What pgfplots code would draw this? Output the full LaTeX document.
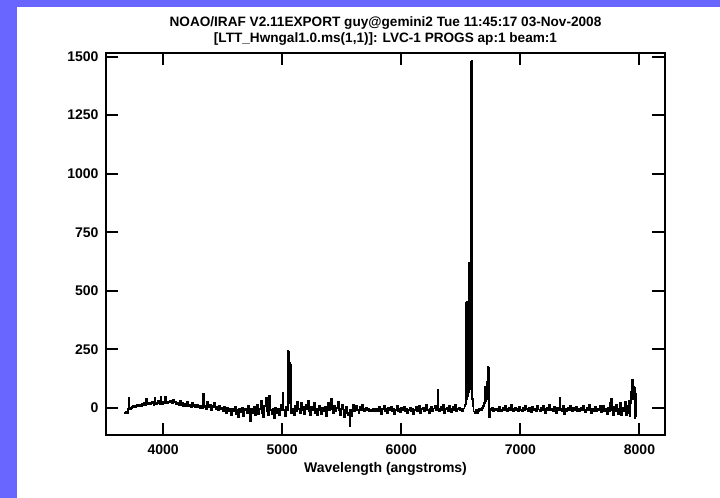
\documentclass[border=0pt]{standalone}
\usepackage{pgfplots}
\pgfplotsset{compat=1.18}
\usepackage{fontspec}
\setmainfont{Liberation Sans}
\definecolor{frame}{RGB}{104,102,255}
\begin{document}
\begin{tikzpicture}
\useasboundingbox (-53.25pt,-31.5pt) rectangle (306.75pt,217.5pt);
\fill[frame] (-53.25pt,-31.5pt) rectangle (306.75pt,217.5pt);
\fill[white] (-44.5pt,-31.5pt) rectangle (306.75pt,214.2pt);
\begin{axis}[
  at={(0pt,0pt)}, anchor=south west,
  scale only axis, width=279pt, height=191pt,
  xmin=3525, xmax=8210, ymin=-115, ymax=1515,
  xtick={4000,5000,6000,7000,8000},
  ytick={0,250,500,750,1000,1250,1500},
  minor tick num=0,
  tick align=inside, major tick length=6pt,
  xtick pos=both, ytick pos=both,
  axis line style={line width=1pt},
  every tick/.style={line width=1pt, black},
  scaled ticks=false,
  /pgf/number format/1000 sep={},
  /pgf/number format/assume math mode=true,
  tick label style={font=\fontsize{7}{8}\selectfont\bfseries},
  xticklabel style={yshift=-1.5pt},
  yticklabel style={xshift=-0.5pt},
  xlabel={Wavelength (angstroms)},
  xlabel style={font=\fontsize{7}{8}\selectfont\bfseries, yshift=3pt},
  clip=true,
]
\addplot[black, line width=0.9pt, const plot] coordinates {
(3675,-22)(3685,-18)(3695,-20)(3705,-5)(3712,45)(3718,-5)(3730,0)(3740,5)(3750,8)(3760,3)
(3770,10)(3780,12)(3790,8)(3800,15)(3810,10)(3820,18)(3830,14)(3840,20)(3850,12)(3858,38)
(3865,15)(3880,20)(3890,16)(3900,22)(3910,26)(3920,14)(3928,42)(3935,18)(3950,22)(3960,30)
(3970,18)(3978,46)(3985,16)(4000,25)(4010,20)(4018,48)(4025,22)(4040,28)(4050,24)(4060,32)
(4070,20)(4080,36)(4090,24)(4100,28)(4110,18)(4120,24)(4130,14)(4140,30)(4150,12)(4160,22)
(4170,10)(4180,18)(4190,8)(4200,26)(4210,10)(4220,15)(4230,4)(4240,20)(4250,8)(4260,12)
(4270,2)(4280,15)(4290,5)(4300,10)(4310,0)(4320,8)(4330,-2)(4337,62)(4343,5)(4350,10)
(4360,-5)(4370,25)(4380,5)(4390,15)(4400,-8)(4410,10)(4420,2)(4430,20)(4440,-5)(4450,5)
(4460,-10)(4470,8)(4480,-5)(4490,0)(4500,-15)(4510,5)(4520,-8)(4530,-20)(4540,0)(4550,-12)
(4560,-5)(4570,-30)(4580,-2)(4590,-15)(4600,5)(4610,-25)(4620,-8)(4630,-40)(4640,-5)(4650,-18)
(4660,0)(4670,-35)(4680,-10)(4690,-5)(4700,-20)(4710,10)(4720,-15)(4730,-55)(4740,-5)(4750,-20)
(4760,5)(4770,-30)(4780,-8)(4790,15)(4800,-25)(4810,-5)(4820,30)(4830,-20)(4840,-40)(4850,10)
(4860,45)(4870,-15)(4880,-30)(4890,50)(4900,-10)(4910,-25)(4920,-5)(4930,-45)(4940,0)(4950,-20)
(4960,-5)(4970,-30)(4980,-10)(4990,15)(4998,-5)(5004,65)(5010,-10)(5020,-35)(5030,5)(5040,-10)
(5046,245)(5052,240)(5058,20)(5064,192)(5070,185)(5076,-20)(5085,-5)(5095,-30)(5105,10)(5115,-15)
(5125,25)(5135,-5)(5145,-20)(5155,20)(5165,-10)(5175,5)(5185,-25)(5195,15)(5205,-5)(5215,30)
(5225,-15)(5235,-30)(5245,5)(5255,-10)(5265,20)(5275,-20)(5285,-5)(5295,-30)(5305,10)(5315,-10)
(5325,-25)(5335,0)(5345,-15)(5355,5)(5365,-35)(5375,-5)(5385,20)(5395,-10)(5405,38)(5415,-5)
(5425,-20)(5435,10)(5445,-15)(5455,0)(5465,25)(5475,-10)(5485,-30)(5495,-5)(5505,15)(5515,-40)
(5525,-10)(5535,5)(5545,-20)(5555,-30)(5565,-75)(5572,-10)(5580,-35)(5590,15)(5600,-15)(5610,-5)
(5620,10)(5630,-10)(5640,-20)(5650,5)(5660,-8)(5670,12)(5680,-5)(5690,-15)(5700,0)(5710,-10)
(5720,-5)(5730,-12)(5740,-8)(5750,-15)(5760,-5)(5770,-10)(5780,-12)(5790,-4)(5800,-15)(5810,5)
(5820,-10)(5830,-25)(5840,-5)(5850,10)(5860,-12)(5870,-5)(5880,-20)(5890,0)(5900,-10)(5910,5)
(5920,-15)(5930,-5)(5940,-25)(5950,-8)(5960,10)(5970,-12)(5980,-5)(5990,-18)(6000,0)(6010,-10)
(6020,5)(6030,-15)(6040,-5)(6050,-20)(6060,-8)(6070,2)(6080,-12)(6090,-5)(6100,-25)(6110,-8)
(6120,5)(6130,-15)(6140,-5)(6150,10)(6160,-20)(6170,-5)(6180,0)(6190,-15)(6200,-10)(6210,15)
(6220,-8)(6230,-20)(6240,-5)(6250,5)(6260,-15)(6270,-2)(6280,10)(6290,-10)(6298,-5)(6304,78)
(6310,-5)(6320,-15)(6330,5)(6340,-10)(6350,12)(6360,-20)(6370,-5)(6380,0)(6390,-12)(6400,10)
(6410,-5)(6420,-18)(6430,5)(6440,-8)(6450,15)(6460,-15)(6470,-5)(6480,0)(6490,-10)(6500,-5)
(6510,-12)(6520,-2)(6530,10)(6538,15)(6541,450)(6544,30)(6547,455)(6550,40)(6553,450)(6556,50)
(6559,455)(6562,60)(6565,620)(6568,70)(6571,615)(6574,80)(6577,620)(6580,90)(6583,615)(6586,1478)
(6589,1480)(6592,100)(6595,40)(6600,10)(6606,-15)(6615,-20)(6625,-10)(6635,-20)(6645,-15)(6655,-5)
(6665,-10)(6675,0)(6685,10)(6693,20)(6700,90)(6706,30)(6712,40)(6718,110)(6724,176)(6730,170)
(6735,-40)(6742,-5)(6750,-10)(6760,0)(6770,-15)(6780,-5)(6790,-10)(6800,-2)(6810,-12)(6820,5)
(6830,-8)(6840,-15)(6850,0)(6860,-10)(6870,8)(6880,-5)(6890,-12)(6900,0)(6910,-8)(6920,12)
(6930,-5)(6940,-15)(6950,2)(6960,-10)(6970,-3)(6980,-12)(6990,5)(7000,-8)(7010,-15)(7020,0)
(7030,-10)(7040,10)(7050,-5)(7060,-12)(7070,2)(7080,-8)(7090,-18)(7100,5)(7110,-10)(7120,-2)
(7130,-12)(7140,8)(7150,-6)(7160,-15)(7170,0)(7180,-10)(7190,10)(7200,-5)(7210,-20)(7220,2)
(7230,-8)(7240,15)(7250,-10)(7260,-5)(7270,-15)(7280,5)(7290,-8)(7300,-20)(7310,0)(7320,-10)
(7330,45)(7336,-5)(7345,-15)(7355,10)(7365,-25)(7375,-5)(7385,-12)(7395,0)(7405,-10)(7415,8)
(7425,-8)(7435,-15)(7445,0)(7455,-10)(7465,5)(7475,-12)(7485,-5)(7495,-15)(7505,2)(7515,-10)
(7525,10)(7535,-8)(7545,-18)(7555,0)(7565,-10)(7575,15)(7585,-5)(7595,-20)(7605,-5)(7615,-12)
(7625,5)(7635,-15)(7645,-5)(7655,-10)(7665,8)(7675,-18)(7685,-5)(7695,10)(7705,-15)(7715,-5)
(7725,-25)(7735,2)(7745,-12)(7755,20)(7762,38)(7768,-10)(7775,-28)(7785,5)(7795,-15)(7805,15)
(7815,-25)(7825,-5)(7835,20)(7845,-30)(7855,0)(7865,-15)(7875,25)(7885,-30)(7895,10)(7905,-20)
(7912,30)(7918,-35)(7925,20)(7932,70)(7938,120)(7944,40)(7950,90)(7956,85)(7960,-45)(7966,60)
(7970,-40)
};
\end{axis}
\node[font=\fontsize{6.8}{8}\selectfont\bfseries] at (139.5pt,206.2pt) {NOAO/IRAF V2.11EXPORT guy@gemini2 Tue 11:45:17 03-Nov-2008};
\node[font=\fontsize{6.8}{8}\selectfont\bfseries] at (139.5pt,198.2pt) {[LTT\_Hwngal1.0.ms(1,1)]: LVC-1 PROGS ap:1 beam:1};
\end{tikzpicture}
\end{document}
